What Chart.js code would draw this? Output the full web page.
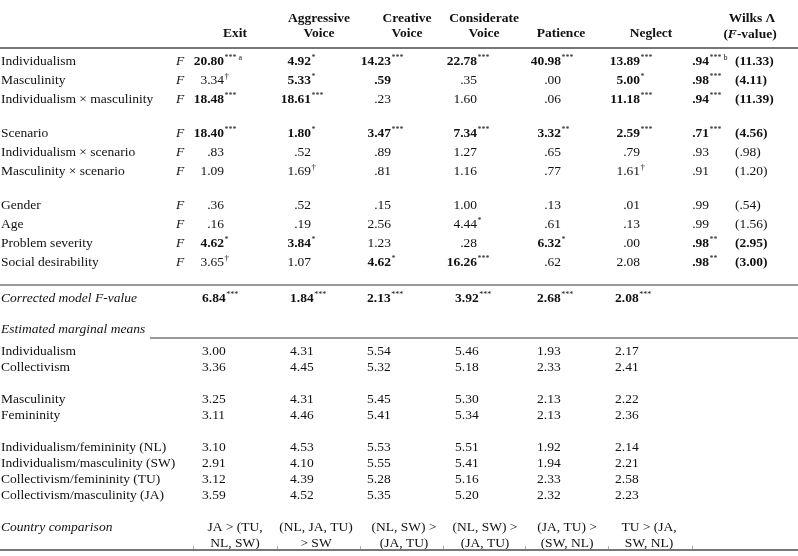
<!DOCTYPE html>
<html>
<head>
<meta charset="utf-8">
<script src="https://cdn.jsdelivr.net/npm/chart.js@4/dist/chart.umd.min.js"></script>
<style>
    html, body { margin: 0; padding: 0; background: #fff; }
    #wrap { width: 798px; height: 556px; position: relative; }
</style>
</head>
<body>
<div id="wrap"><canvas id="tabelle"></canvas></div>
<script>
// ---- data ----
// cell format: leading "!" = bold, text after "|" = superscript
const measures = ["Exit", "Aggressive\nVoice", "Creative\nVoice", "Considerate\nVoice", "Patience", "Neglect"];
const effects = ["Individualism", "Masculinity", "Individualism × masculinity",
    "Scenario", "Individualism × scenario", "Masculinity × scenario",
    "Gender", "Age", "Problem severity", "Social desirability"];

const fExit = ["!20.80|*** a", "3.34|†", "!18.48|***", "!18.40|***", ".83", "1.09", ".36", ".16", "!4.62|*", "3.65|†"];
const fAggressive = ["!4.92|*", "!5.33|*", "!18.61|***", "!1.80|*", ".52", "1.69|†", ".52", ".19", "!3.84|*", "1.07"];
const fCreative = ["!14.23|***", "!.59", ".23", "!3.47|***", ".89", ".81", ".15", "2.56", "1.23", "!4.62|*"];
const fConsiderate = ["!22.78|***", ".35", "1.60", "!7.34|***", "1.27", "1.16", "1.00", "4.44|*", ".28", "!16.26|***"];
const fPatience = ["!40.98|***", ".00", ".06", "!3.32|**", ".65", ".77", ".13", ".61", "!6.32|*", ".62"];
const fNeglect = ["!13.89|***", "!5.00|*", "!11.18|***", "!2.59|***", ".79", "1.61|†", ".01", ".13", ".00", "2.08"];
const wilksLambda = ["!.94|*** b", "!.98|***", "!.94|***", "!.71|***", ".93", ".91", ".99", ".99", "!.98|**", "!.98|**"];
const wilksF = ["!(11.33)", "!(4.11)", "!(11.39)", "!(4.56)", "(.98)", "(1.20)", "(.54)", "(1.56)", "!(2.95)", "!(3.00)"];

const correctedF = ["!6.84|***", "!1.84|***", "!2.13|***", "!3.92|***", "!2.68|***", "!2.08|***"];

const meanGroups = ["Individualism", "Collectivism", "Masculinity", "Femininity",
    "Individualism/femininity (NL)", "Individualism/masculinity (SW)",
    "Collectivism/femininity (TU)", "Collectivism/masculinity (JA)"];
const meansExit = [3.00, 3.36, 3.25, 3.11, 3.10, 2.91, 3.12, 3.59];
const meansAggressive = [4.31, 4.45, 4.31, 4.46, 4.53, 4.10, 4.39, 4.52];
const meansCreative = [5.54, 5.32, 5.45, 5.41, 5.53, 5.55, 5.28, 5.35];
const meansConsiderate = [5.46, 5.18, 5.30, 5.34, 5.51, 5.41, 5.16, 5.20];
const meansPatience = [1.93, 2.33, 2.13, 2.13, 1.92, 1.94, 2.33, 2.32];
const meansNeglect = [2.17, 2.41, 2.22, 2.36, 2.14, 2.21, 2.58, 2.23];

const comparison = ["JA > (TU,\nNL, SW)", "(NL, JA, TU)\n> SW", "(NL, SW) >\n(JA, TU)",
    "(NL, SW) >\n(JA, TU)", "(JA, TU) >\n(SW, NL)", "TU > (JA,\nSW, NL)"];

const fColumns = [fExit, fAggressive, fCreative, fConsiderate, fPatience, fNeglect];
const meanColumns = [meansExit, meansAggressive, meansCreative, meansConsiderate, meansPatience, meansNeglect];

// ---- layout ----
const fam = "'Liberation Serif', 'Times New Roman', serif";
const fs = 13.5;
const headCenter = [235, 319, 407, 484, 561, 651];
const fRight = [224, 311, 391, 477, 561, 640];
const meanLeft = [202, 290, 367, 455, 537, 615];
const compCenter = [235, 316, 404, 485, 567, 649];
const ticks = [193, 277, 360, 443, 525, 608, 692];

function effectY(i) {
    const g = i < 3 ? 0 : (i < 6 ? 1 : 2);
    return 60 + 19 * i + 15 * g;
}
function meanY(i) {
    const g = i < 2 ? 0 : (i < 4 ? 1 : 2);
    return 350 + 16 * i + 16 * g;
}

function parseCell(s) {
    const bold = s.startsWith("!");
    if (bold) s = s.slice(1);
    const p = s.split("|");
    return { bold: bold, text: p[0], sup: p[1] || "" };
}

const tablePlugin = {
    id: "tabelle",
    afterDraw(chart) {
        const ctx = chart.ctx;
        const sx = chart.scales.x, sy = chart.scales.y;
        const X = (v) => sx.getPixelForValue(v);
        const Y = (v) => sy.getPixelForValue(v) + 4.5;
        ctx.save();
        ctx.fillStyle = "#111";
        ctx.textBaseline = "alphabetic";

        function txt(s, x, y, font, align) {
            ctx.font = font;
            ctx.textAlign = align || "left";
            ctx.fillText(s, x, y);
        }
        function cell(s, x, y, align) {
            const c = parseCell(s);
            const f = (c.bold ? "bold " : "") + fs + "px " + fam;
            ctx.font = f;
            const w = ctx.measureText(c.text).width;
            let left = align === "right" ? x - w : x;
            txt(c.text, left, y, f, "left");
            if (c.sup) {
                const sf = (c.sup.indexOf("†") >= 0 ? 9 : 8) + "px " + fam;
                txt(c.sup, left + w + 0.5, y - 5, sf, "left");
            }
        }
        function hline(y, x0, x1, lw) {
            ctx.strokeStyle = "#777";
            ctx.lineWidth = lw;
            ctx.beginPath();
            ctx.moveTo(X(x0), sy.getPixelForValue(y));
            ctx.lineTo(X(x1), sy.getPixelForValue(y));
            ctx.stroke();
        }

        // header
        const hb = "bold " + fs + "px " + fam;
        measures.forEach((m, c) => {
            const parts = m.split("\n");
            if (parts.length === 1) {
                txt(parts[0], X(headCenter[c]), Y(32), hb, "center");
            } else {
                txt(parts[0], X(headCenter[c]), Y(17), hb, "center");
                txt(parts[1], X(headCenter[c]), Y(32), hb, "center");
            }
        });
        txt("Wilks Λ", X(752), Y(17), hb, "center");
        ctx.font = hb;
        const wa = ctx.measureText("(").width;
        ctx.font = "bold italic " + fs + "px " + fam;
        const wb = ctx.measureText("F").width;
        ctx.font = hb;
        const wc = ctx.measureText("-value)").width;
        let hx = X(750) - (wa + wb + wc) / 2;
        txt("(", hx, Y(33), hb);
        txt("F", hx + wa, Y(33), "bold italic " + fs + "px " + fam);
        txt("-value)", hx + wa + wb, Y(33), hb);

        hline(48, 0, 798, 2);

        // effects
        const nf = fs + "px " + fam;
        const itf = "italic " + fs + "px " + fam;
        effects.forEach((e, i) => {
            const y = Y(effectY(i));
            txt(e, X(1), y, nf);
            txt("F", X(176), y, itf);
            fColumns.forEach((col, c) => cell(col[i], X(fRight[c]), y, "right"));
            cell(wilksLambda[i], X(709), y, "right");
            cell(wilksF[i], X(735), y, "left");
        });

        hline(285, 0, 798, 1.5);
        txt("Corrected model F-value", X(1), Y(297), itf);
        correctedF.forEach((s, c) => cell(s, X(meanLeft[c]), Y(297), "left"));

        txt("Estimated marginal means", X(1), Y(328), itf);
        hline(338, 150, 798, 1.5);

        meanGroups.forEach((g, i) => {
            const y = Y(meanY(i));
            txt(g, X(1), y, nf);
            meanColumns.forEach((col, c) => txt(col[i].toFixed(2), X(meanLeft[c]), y, nf));
        });

        txt("Country comparison", X(1), Y(526), itf);
        comparison.forEach((s, c) => {
            const parts = s.split("\n");
            txt(parts[0], X(compCenter[c]), Y(526), nf, "center");
            txt(parts[1], X(compCenter[c]), Y(542), nf, "center");
        });

        hline(550, 0, 798, 2);
        ctx.strokeStyle = "#aaa";
        ctx.lineWidth = 1;
        ticks.forEach((t) => {
            ctx.beginPath();
            ctx.moveTo(X(t) + 0.5, sy.getPixelForValue(546));
            ctx.lineTo(X(t) + 0.5, sy.getPixelForValue(549));
            ctx.stroke();
        });
        ctx.restore();
    }
};

new Chart(document.getElementById("tabelle"), {
    type: "scatter",
    data: { datasets: [{ data: [], pointRadius: 0 }] },
    options: {
        responsive: true,
        maintainAspectRatio: false,
        animation: false,
        layout: { padding: 0 },
        plugins: { legend: { display: false }, tooltip: { enabled: false } },
        scales: {
            x: { type: "linear", min: 0, max: 798, display: false },
            y: { type: "linear", min: 0, max: 556, reverse: true, display: false }
        }
    },
    plugins: [tablePlugin]
});
</script>
</body>
</html>
